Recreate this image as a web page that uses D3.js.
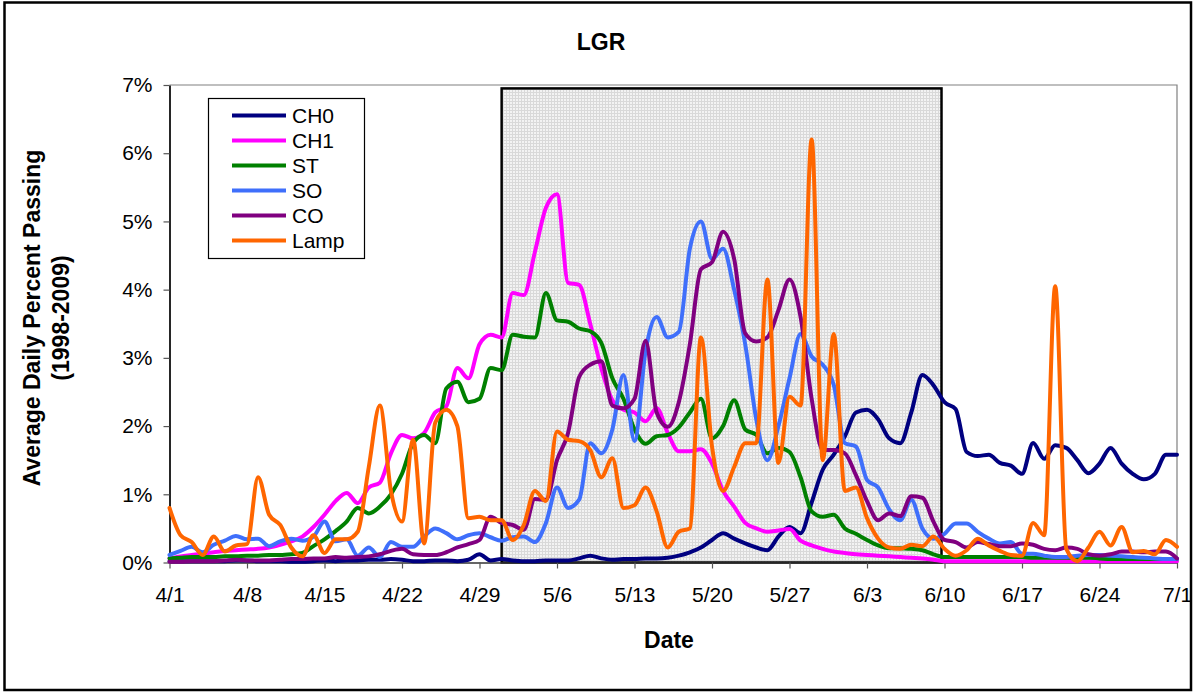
<!DOCTYPE html>
<html><head><meta charset="utf-8">
<script src="https://cdn.jsdelivr.net/npm/d3@7"></script>
<style>
body{margin:0;background:#fff}
svg{display:block}
text{font-family:Arial,"Liberation Sans",sans-serif;fill:#000}
</style>
</head><body>
<svg id="chart" width="1196" height="692"></svg>
<script>
// ---------------- data ----------------
const chartTitle = "LGR";
const xTitle = "Date";
const yTitleLines = ["Average Daily Percent Passing", "(1998-2009)"];
const startDate = "2009-04-01";
const endDate = "2009-07-01";
const shadeStart = "2009-05-01";
const shadeEnd = "2009-06-10";
const shadeTopPct = 6.95;
const xTickDates = ["2009-04-01","2009-04-08","2009-04-15","2009-04-22","2009-04-29","2009-05-06","2009-05-13","2009-05-20","2009-05-27","2009-06-03","2009-06-10","2009-06-17","2009-06-24","2009-07-01"];
const xTickLabels = ["4/1","4/8","4/15","4/22","4/29","5/6","5/13","5/20","5/27","6/3","6/10","6/17","6/24","7/1"];
const yTickValues = [0,1,2,3,4,5,6,7];
const yTickLabels = ["0%","1%","2%","3%","4%","5%","6%","7%"];
const seriesNames = ["CH0","CH1","ST","SO","CO","Lamp"];
const seriesColors = ["#000080","#ff00ff","#008000","#3f6ffb","#800080","#ff6600"];

// daily values, 4/1 .. 7/1 (percent)
const CH0 = [0.02,0.02,0.02,0.02,0.02,0.02,0.03,0.03,0.02,0.02,
  0.02,0.01,0.01,0.02,0.03,0.02,0.03,0.03,0.04,0.04,
  0.05,0.04,0.02,0.02,0.03,0.03,0.02,0.04,0.12,0.03,
  0.05,0.03,0.02,0.02,0.03,0.03,0.03,0.06,0.1,0.06,
  0.04,0.05,0.05,0.06,0.06,0.07,0.1,0.15,0.22,0.33,
  0.43,0.35,0.28,0.22,0.18,0.38,0.52,0.43,0.88,1.36,
  1.58,1.85,2.2,2.24,2.1,1.82,1.75,2.2,2.75,2.6,
  2.35,2.25,1.62,1.56,1.58,1.46,1.42,1.3,1.75,1.52,
  1.72,1.68,1.5,1.31,1.45,1.68,1.45,1.3,1.22,1.3,
  1.58,1.58];
const CH1 = [0.06,0.09,0.11,0.13,0.15,0.17,0.18,0.19,0.2,0.22,
  0.26,0.31,0.38,0.52,0.7,0.9,1.02,0.87,1.1,1.17,
  1.6,1.87,1.82,1.9,2.2,2.29,2.85,2.7,3.2,3.34,
  3.3,3.95,3.92,4.55,5.2,5.4,4.1,4.07,3.5,2.85,
  2.38,2.24,2.2,2.07,2.26,1.9,1.63,1.63,1.66,1.45,
  1.05,0.82,0.58,0.5,0.45,0.47,0.49,0.32,0.25,0.2,
  0.16,0.14,0.12,0.11,0.1,0.09,0.08,0.07,0.06,0.04,
  0.02,0.02,0.02,0.02,0.02,0.02,0.02,0.02,0.02,0.02,
  0.02,0.02,0.02,0.02,0.02,0.02,0.02,0.02,0.02,0.02,
  0.02,0.02];
const ST = [0.06,0.07,0.08,0.08,0.08,0.09,0.09,0.1,0.1,0.11,
  0.11,0.12,0.14,0.24,0.34,0.46,0.6,0.8,0.72,0.82,
  1.0,1.3,1.75,1.87,1.75,2.55,2.65,2.35,2.4,2.85,
  2.82,3.34,3.31,3.3,3.95,3.55,3.53,3.43,3.39,3.22,
  2.7,2.4,1.95,1.74,1.85,1.87,1.98,2.2,2.4,1.82,
  2.0,2.38,1.95,1.87,1.6,1.68,1.62,1.25,0.75,0.67,
  0.7,0.5,0.42,0.33,0.25,0.21,0.21,0.2,0.18,0.12,
  0.08,0.08,0.08,0.08,0.08,0.08,0.08,0.08,0.07,0.07,
  0.07,0.07,0.07,0.07,0.06,0.05,0.05,0.05,0.05,0.05,
  0.05,0.05];
const SO = [0.11,0.17,0.23,0.15,0.26,0.32,0.39,0.34,0.35,0.24,
  0.31,0.35,0.32,0.38,0.6,0.31,0.34,0.1,0.22,0.08,
  0.3,0.23,0.23,0.38,0.5,0.43,0.34,0.4,0.43,0.37,
  0.32,0.37,0.38,0.3,0.58,1.1,0.8,0.92,1.75,1.6,
  1.95,2.75,1.78,3.1,3.6,3.3,3.38,4.6,5.0,4.45,
  4.6,4.0,3.2,2.1,1.5,2.0,2.7,3.35,3.02,2.9,
  2.6,1.75,1.7,1.21,1.1,0.78,0.62,0.92,0.5,0.35,
  0.42,0.57,0.57,0.45,0.35,0.28,0.3,0.13,0.13,0.1,
  0.08,0.08,0.1,0.11,0.11,0.1,0.09,0.08,0.07,0.06,
  0.05,0.05];
const CO = [0.01,0.01,0.02,0.02,0.02,0.03,0.04,0.03,0.03,0.03,
  0.04,0.05,0.05,0.06,0.06,0.08,0.07,0.08,0.09,0.12,
  0.17,0.2,0.12,0.11,0.11,0.15,0.22,0.27,0.33,0.67,
  0.58,0.55,0.48,0.93,0.92,1.5,1.9,2.72,2.9,2.95,
  2.3,2.26,2.4,3.25,2.2,1.99,2.35,3.2,4.3,4.4,
  4.85,4.45,3.36,3.24,3.3,3.7,4.15,3.6,2.4,1.65,
  1.65,1.6,1.28,0.9,0.62,0.72,0.68,0.97,0.95,0.6,
  0.33,0.3,0.22,0.3,0.27,0.24,0.24,0.28,0.26,0.2,
  0.18,0.22,0.2,0.12,0.1,0.12,0.16,0.16,0.15,0.16,
  0.16,0.06];
const Lamp = [0.8,0.4,0.3,0.11,0.38,0.16,0.25,0.27,1.25,0.7,
  0.55,0.22,0.09,0.4,0.14,0.34,0.34,0.45,1.4,2.3,
  1.05,0.6,1.8,0.28,2.05,2.24,2.0,0.65,0.67,0.62,
  0.62,0.33,0.55,1.05,0.9,1.92,1.8,1.78,1.65,1.25,
  1.53,0.8,0.84,1.1,0.75,0.22,0.45,0.5,3.3,1.7,
  1.05,1.4,1.75,1.75,4.15,1.46,2.43,2.3,6.2,1.5,
  3.35,1.05,1.1,0.65,0.35,0.22,0.2,0.26,0.24,0.38,
  0.2,0.1,0.18,0.35,0.25,0.17,0.11,0.1,0.58,0.4,
  4.05,0.2,0.02,0.22,0.45,0.25,0.52,0.15,0.17,0.12,
  0.33,0.23];
const seriesValues = [CH0, CH1, ST, SO, CO, Lamp];

// ---------------- drawing ----------------
const parse = d3.timeParse("%Y-%m-%d");
const days = d3.timeDay.range(parse(startDate), d3.timeDay.offset(parse(endDate), 1));

const svg = d3.select("#chart");
const plot = {left: 169.5, right: 1177, top: 85, bottom: 562.5};

const x = d3.scaleTime().domain([parse(startDate), parse(endDate)]).range([plot.left, plot.right]);
const y = d3.scaleLinear().domain([0, 7]).range([plot.bottom, plot.top]);

// outer frame
svg.append("rect").attr("x", 4.5).attr("y", 2.5).attr("width", 1186.5).attr("height", 687.5)
  .attr("fill", "#fff").attr("stroke", "#000").attr("stroke-width", 2.5);

// pattern for shaded window
const defs = svg.append("defs");
const pat = defs.append("pattern").attr("id", "dots").attr("patternUnits", "userSpaceOnUse")
  .attr("width", 3).attr("height", 3);
pat.append("rect").attr("width", 3).attr("height", 3).attr("fill", "#d9d9d9");
pat.append("rect").attr("width", 2).attr("height", 2).attr("fill", "#f3f3f3");

// plot border (top/right)
svg.append("path")
  .attr("d", `M${plot.left},${plot.top}H${plot.right}V${plot.bottom}`)
  .attr("fill", "none").attr("stroke", "#808080").attr("stroke-width", 1.2);

// shaded window
svg.append("rect")
  .attr("x", x(parse(shadeStart))).attr("y", y(shadeTopPct))
  .attr("width", x(parse(shadeEnd)) - x(parse(shadeStart)) - 3)
  .attr("height", y(0) - y(shadeTopPct))
  .attr("fill", "url(#dots)").attr("stroke", "#000").attr("stroke-width", 2.5);

// axes
const xAxis = d3.axisBottom(x)
  .tickValues(xTickDates.map(parse))
  .tickFormat((d, i) => xTickLabels[i])
  .tickSizeInner(6).tickSizeOuter(0).tickPadding(19);
const gx = svg.append("g").attr("transform", `translate(0,${plot.bottom})`).call(xAxis);
gx.selectAll("text").style("font-size", "21px").attr("fill", "#000");
gx.selectAll("line").attr("stroke", "#555").attr("stroke-width", 1.2);
gx.select(".domain").attr("stroke", "#333").attr("stroke-width", 1.5);

const yAxis = d3.axisLeft(y)
  .tickValues(yTickValues)
  .tickFormat((d, i) => yTickLabels[i])
  .tickSizeInner(6).tickSizeOuter(0).tickPadding(11);
const gy = svg.append("g").attr("transform", `translate(${plot.left},0)`).call(yAxis);
gy.selectAll("text").style("font-size", "21px").attr("fill", "#000");
gy.selectAll("line").attr("stroke", "#555").attr("stroke-width", 1.2);
gy.select(".domain").attr("stroke", "#000").attr("stroke-width", 1.7);

// series lines
const line = d3.line().x((d, i) => x(days[i])).y(d => y(d)).curve(d3.curveMonotoneX);
seriesValues.forEach((vals, k) => {
  svg.append("path").datum(vals)
    .attr("d", line)
    .attr("fill", "none")
    .attr("stroke", seriesColors[k])
    .attr("stroke-width", 4)
    .attr("stroke-linejoin", "round")
    .attr("stroke-linecap", "round");
});

// titles
svg.append("text").attr("x", 601).attr("y", 50).attr("text-anchor", "middle")
  .style("font-size", "23px").style("font-weight", "bold").text(chartTitle);
svg.append("text").attr("x", 669).attr("y", 648).attr("text-anchor", "middle")
  .style("font-size", "23px").style("font-weight", "bold").text(xTitle);
yTitleLines.forEach((t, i) => {
  svg.append("text")
    .attr("transform", `translate(${32 + i * 29},318) rotate(-90)`)
    .attr("text-anchor", "middle").attr("dy", "0.35em")
    .style("font-size", "23px").style("font-weight", "bold").text(t);
});

// legend
const lg = svg.append("g");
lg.append("rect").attr("x", 208.5).attr("y", 98.5).attr("width", 156).attr("height", 160)
  .attr("fill", "#fff").attr("stroke", "#000").attr("stroke-width", 1.2);
seriesNames.forEach((name, i) => {
  const yy = 115.5 + i * 25;
  lg.append("line").attr("x1", 232).attr("x2", 286).attr("y1", yy).attr("y2", yy)
    .attr("stroke", seriesColors[i]).attr("stroke-width", 4);
  lg.append("text").attr("x", 292).attr("y", yy).attr("dy", "0.36em")
    .style("font-size", "21px").text(name);
});
</script>
</body></html>
